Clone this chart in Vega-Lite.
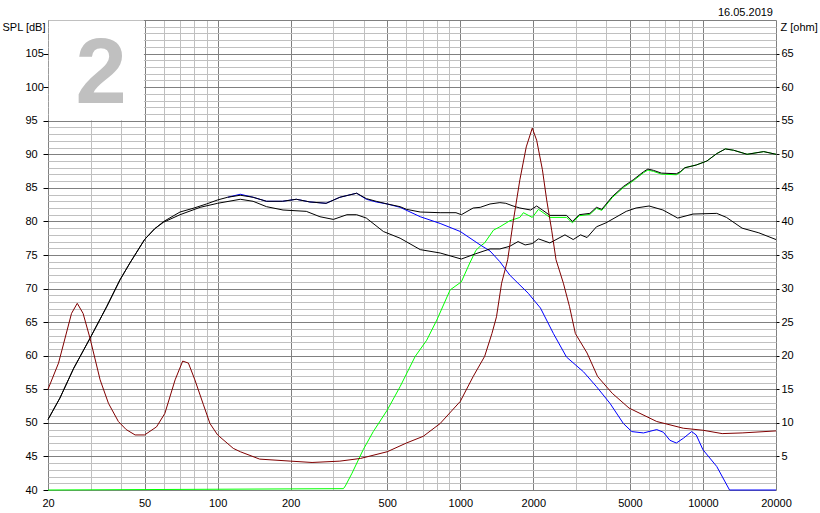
{
  "$schema": "https://vega.github.io/schema/vega-lite/v6.json",
  "width": 728,
  "height": 470,
  "autosize": {"type": "none"},
  "padding": {"left": 48, "top": 20, "right": 44, "bottom": 23},
  "background": "white",
  "config": {
    "view": {"stroke": null},
    "font": "Liberation Sans",
    "axis": {
      "labelFont": "Liberation Sans",
      "labelFontSize": 11,
      "labelColor": "black",
      "titleFont": "Liberation Sans",
      "titleFontSize": 11,
      "titleFontWeight": "normal",
      "titleColor": "black"
    }
  },
  "title": {
    "text": "16.05.2019",
    "anchor": "end",
    "frame": "group",
    "orient": "top",
    "offset": 7,
    "baseline": "alphabetic",
    "fontSize": 11,
    "fontWeight": "normal",
    "font": "Liberation Sans",
    "color": "black",
    "dx": -3,
    "dy": 20
  },
  "datasets": {
    "box": [{"f": 20.15, "f2": 49.7, "spl": 95.08, "spl2": 109.92}],
    "badge": [{"f": 33.1, "spl": 97.6, "label": "2"}],
    "sum": [
      {"f": 20, "spl": 50.5}, {"f": 22.4, "spl": 53.7}, {"f": 25.5, "spl": 58.1}, {"f": 29.8, "spl": 62.6},
      {"f": 34.9, "spl": 67.3}, {"f": 39.6, "spl": 71.3}, {"f": 43.5, "spl": 73.8}, {"f": 50, "spl": 77.3},
      {"f": 55, "spl": 78.9}, {"f": 60, "spl": 80.0}, {"f": 70, "spl": 81.4}, {"f": 80, "spl": 82.0},
      {"f": 90, "spl": 82.6}, {"f": 100, "spl": 83.2}, {"f": 110, "spl": 83.6}, {"f": 124, "spl": 83.9},
      {"f": 140, "spl": 83.6}, {"f": 159, "spl": 83.0}, {"f": 185, "spl": 83.0}, {"f": 211, "spl": 83.3},
      {"f": 240, "spl": 82.9}, {"f": 280, "spl": 82.7}, {"f": 319, "spl": 83.6}, {"f": 374, "spl": 84.2},
      {"f": 410, "spl": 83.4}, {"f": 450, "spl": 83.0}, {"f": 500, "spl": 82.6}, {"f": 565, "spl": 82.2},
      {"f": 600, "spl": 81.8}, {"f": 684, "spl": 81.4}, {"f": 826, "spl": 81.3}, {"f": 960, "spl": 81.3},
      {"f": 1010, "spl": 81.0}, {"f": 1130, "spl": 82.0}, {"f": 1208, "spl": 82.1}, {"f": 1326, "spl": 82.6},
      {"f": 1456, "spl": 82.8}, {"f": 1540, "spl": 82.7}, {"f": 1650, "spl": 82.3}, {"f": 1760, "spl": 82.0},
      {"f": 1950, "spl": 81.7}, {"f": 2064, "spl": 82.3}, {"f": 2180, "spl": 81.7}, {"f": 2340, "spl": 80.9},
      {"f": 2740, "spl": 80.9}, {"f": 2900, "spl": 80.0}, {"f": 3090, "spl": 81.0}, {"f": 3420, "spl": 81.2},
      {"f": 3640, "spl": 82.1}, {"f": 3830, "spl": 81.8}, {"f": 4230, "spl": 83.7}, {"f": 4700, "spl": 85.2},
      {"f": 5160, "spl": 86.2}, {"f": 5690, "spl": 87.4}, {"f": 5930, "spl": 87.8}, {"f": 6260, "spl": 87.6},
      {"f": 6740, "spl": 87.2}, {"f": 7770, "spl": 87.1}, {"f": 8060, "spl": 87.4}, {"f": 8430, "spl": 88.0},
      {"f": 9380, "spl": 88.4}, {"f": 10380, "spl": 89.0}, {"f": 11400, "spl": 90.1}, {"f": 12370, "spl": 90.8},
      {"f": 13380, "spl": 90.6}, {"f": 15200, "spl": 90.0}, {"f": 17800, "spl": 90.4}, {"f": 20000, "spl": 90.0}
    ],
    "reversed": [
      {"f": 20, "spl": 50.5}, {"f": 22.4, "spl": 53.7}, {"f": 25.5, "spl": 58.1}, {"f": 29.8, "spl": 62.6},
      {"f": 34.9, "spl": 67.3}, {"f": 39.6, "spl": 71.3}, {"f": 43.5, "spl": 73.8}, {"f": 50, "spl": 77.3},
      {"f": 55, "spl": 78.9}, {"f": 60, "spl": 79.9}, {"f": 70, "spl": 81.0}, {"f": 84.7, "spl": 82.1},
      {"f": 100, "spl": 82.7}, {"f": 124, "spl": 83.3}, {"f": 140, "spl": 83.0}, {"f": 159, "spl": 82.2},
      {"f": 186, "spl": 81.7}, {"f": 232, "spl": 81.5}, {"f": 264, "spl": 80.7}, {"f": 300, "spl": 80.3},
      {"f": 341, "spl": 81.0}, {"f": 374, "spl": 81.0}, {"f": 410, "spl": 80.5}, {"f": 482, "spl": 78.5},
      {"f": 565, "spl": 77.5}, {"f": 684, "spl": 75.8}, {"f": 826, "spl": 75.3}, {"f": 1010, "spl": 74.4},
      {"f": 1160, "spl": 75.2}, {"f": 1326, "spl": 75.9}, {"f": 1456, "spl": 75.9}, {"f": 1600, "spl": 76.3},
      {"f": 1730, "spl": 77.0}, {"f": 1850, "spl": 76.5}, {"f": 1980, "spl": 76.7}, {"f": 2100, "spl": 77.4},
      {"f": 2340, "spl": 76.8}, {"f": 2700, "spl": 78.0}, {"f": 2920, "spl": 77.3}, {"f": 3130, "spl": 78.0},
      {"f": 3330, "spl": 77.6}, {"f": 3640, "spl": 79.2}, {"f": 3990, "spl": 79.8}, {"f": 4830, "spl": 81.5},
      {"f": 5300, "spl": 82.0}, {"f": 6000, "spl": 82.3}, {"f": 6840, "spl": 81.7}, {"f": 7870, "spl": 80.5},
      {"f": 9100, "spl": 81.1}, {"f": 11400, "spl": 81.2}, {"f": 12500, "spl": 80.6}, {"f": 14500, "spl": 79.0},
      {"f": 17000, "spl": 78.3}, {"f": 20000, "spl": 77.3}
    ],
    "woofer": [
      {"f": 110, "spl": 83.6}, {"f": 124, "spl": 84.05}, {"f": 140, "spl": 83.6}, {"f": 159, "spl": 83.0},
      {"f": 185, "spl": 83.0}, {"f": 211, "spl": 83.3}, {"f": 240, "spl": 82.9}, {"f": 280, "spl": 82.7},
      {"f": 319, "spl": 83.6}, {"f": 374, "spl": 84.2},
      {"f": 410, "spl": 83.3}, {"f": 450, "spl": 82.9}, {"f": 500, "spl": 82.6}, {"f": 565, "spl": 82.1},
      {"f": 684, "spl": 80.7}, {"f": 826, "spl": 79.7}, {"f": 1000, "spl": 78.5}, {"f": 1208, "spl": 76.5},
      {"f": 1326, "spl": 75.6}, {"f": 1456, "spl": 74.0}, {"f": 1600, "spl": 72.0}, {"f": 1906, "spl": 69.3},
      {"f": 2140, "spl": 67.1}, {"f": 2420, "spl": 63.3}, {"f": 2740, "spl": 59.8}, {"f": 3220, "spl": 57.6},
      {"f": 3640, "spl": 55.4}, {"f": 4140, "spl": 52.9}, {"f": 4700, "spl": 49.9}, {"f": 5090, "spl": 48.7},
      {"f": 5690, "spl": 48.5}, {"f": 6450, "spl": 49.0}, {"f": 6870, "spl": 48.6}, {"f": 7310, "spl": 47.4},
      {"f": 7770, "spl": 47.0}, {"f": 8300, "spl": 47.7}, {"f": 8980, "spl": 48.7}, {"f": 9380, "spl": 48.2},
      {"f": 10000, "spl": 46.0}, {"f": 11400, "spl": 43.5}, {"f": 12870, "spl": 40.0}, {"f": 20000, "spl": 40.0}
    ],
    "tweeter": [
      {"f": 20, "spl": 40.0}, {"f": 330, "spl": 40.2}, {"f": 336, "spl": 40.6}, {"f": 358, "spl": 42.5},
      {"f": 398, "spl": 46.0}, {"f": 438, "spl": 48.7}, {"f": 500, "spl": 51.9}, {"f": 565, "spl": 55.4},
      {"f": 652, "spl": 59.9}, {"f": 727, "spl": 62.3}, {"f": 800, "spl": 65.3}, {"f": 908, "spl": 69.8},
      {"f": 1010, "spl": 71.0}, {"f": 1094, "spl": 73.8}, {"f": 1160, "spl": 75.7}, {"f": 1208, "spl": 76.3},
      {"f": 1260, "spl": 76.8}, {"f": 1370, "spl": 78.7}, {"f": 1456, "spl": 79.2}, {"f": 1600, "spl": 80.1},
      {"f": 1760, "spl": 80.6}, {"f": 1820, "spl": 81.3}, {"f": 1980, "spl": 80.6}, {"f": 2100, "spl": 81.8},
      {"f": 2340, "spl": 80.6}, {"f": 2740, "spl": 80.6}, {"f": 2900, "spl": 79.8}, {"f": 3090, "spl": 80.85},
      {"f": 3420, "spl": 81.05}, {"f": 3640, "spl": 81.95}, {"f": 3830, "spl": 81.65}, {"f": 4230, "spl": 83.55},
      {"f": 4700, "spl": 85.05}, {"f": 5160, "spl": 86.05}, {"f": 5690, "spl": 87.25}, {"f": 5930, "spl": 87.65},
      {"f": 6260, "spl": 87.45}, {"f": 6740, "spl": 87.05}, {"f": 7770, "spl": 86.95}, {"f": 8060, "spl": 87.3},
      {"f": 8430, "spl": 88.0}, {"f": 9380, "spl": 88.4}, {"f": 10380, "spl": 89.0}, {"f": 11400, "spl": 90.1},
      {"f": 12370, "spl": 90.8}, {"f": 13380, "spl": 90.6}, {"f": 15200, "spl": 90.0}, {"f": 17800, "spl": 90.4},
      {"f": 20000, "spl": 90.0}
    ],
    "impedance": [
      {"f": 20, "ohm": 15.0}, {"f": 22.1, "ohm": 18.9}, {"f": 25.0, "ohm": 26.3}, {"f": 26.4, "ohm": 27.8},
      {"f": 27.9, "ohm": 26.3}, {"f": 29.8, "ohm": 22.6}, {"f": 32.8, "ohm": 16.4}, {"f": 35.5, "ohm": 12.9},
      {"f": 39, "ohm": 10.2}, {"f": 42, "ohm": 9.0}, {"f": 45.7, "ohm": 8.2}, {"f": 50, "ohm": 8.2},
      {"f": 56, "ohm": 9.4}, {"f": 60.6, "ohm": 11.4}, {"f": 66.8, "ohm": 16.4}, {"f": 71.8, "ohm": 19.2},
      {"f": 75.8, "ohm": 18.9}, {"f": 80.6, "ohm": 16.4}, {"f": 87.4, "ohm": 12.7}, {"f": 93, "ohm": 9.9},
      {"f": 100, "ohm": 8.2}, {"f": 116, "ohm": 6.2}, {"f": 124, "ohm": 5.7}, {"f": 149, "ohm": 4.6},
      {"f": 200, "ohm": 4.3}, {"f": 245, "ohm": 4.1}, {"f": 319, "ohm": 4.3}, {"f": 388, "ohm": 4.7},
      {"f": 500, "ohm": 5.7}, {"f": 600, "ohm": 7.0}, {"f": 704, "ohm": 8.0}, {"f": 826, "ohm": 9.9},
      {"f": 1000, "ohm": 13.2}, {"f": 1130, "ohm": 16.9}, {"f": 1260, "ohm": 19.9}, {"f": 1350, "ohm": 23.3},
      {"f": 1410, "ohm": 25.8}, {"f": 1480, "ohm": 30.8}, {"f": 1568, "ohm": 34.3}, {"f": 1656, "ohm": 40.2},
      {"f": 1760, "ohm": 46.2}, {"f": 1870, "ohm": 51.1}, {"f": 1980, "ohm": 53.9}, {"f": 2064, "ohm": 52.1},
      {"f": 2180, "ohm": 47.7}, {"f": 2270, "ohm": 43.2}, {"f": 2380, "ohm": 38.7}, {"f": 2480, "ohm": 34.3},
      {"f": 2660, "ohm": 30.8}, {"f": 2820, "ohm": 27.3}, {"f": 2980, "ohm": 23.3}, {"f": 3330, "ohm": 20.4},
      {"f": 3680, "ohm": 16.9}, {"f": 4230, "ohm": 14.4}, {"f": 4960, "ohm": 12.2}, {"f": 6450, "ohm": 10.2},
      {"f": 8300, "ohm": 9.2}, {"f": 10000, "ohm": 8.9}, {"f": 12000, "ohm": 8.4}, {"f": 14500, "ohm": 8.5},
      {"f": 20000, "ohm": 8.8}
    ]
  },
  "encoding": {
    "x": {
      "field": "f",
      "type": "quantitative",
      "scale": {"type": "log", "domain": [20, 20000], "nice": false},
      "axis": {
        "values": [20, 30, 40, 50, 60, 70, 80, 90, 100, 200, 300, 400, 500, 600, 700, 800, 900, 1000, 2000, 3000, 4000, 5000, 6000, 7000, 8000, 9000, 10000, 20000],
        "format": "d",
        "labelExpr": "indexof([20, 50, 100, 200, 500, 1000, 2000, 5000, 10000, 20000], datum.value) >= 0 ? datum.label : ''",
        "grid": true,
        "gridOpacity": 1,
        "gridColor": {"condition": {"test": "indexof([20, 50, 100, 200, 500, 1000, 2000, 5000, 10000, 20000], datum.value) >= 0", "value": "#808080"}, "value": "#c0c0c0"},
        "ticks": false,
        "domain": false,
        "labelPadding": 7,
        "labelOverlap": false,
        "labelFlush": false,
        "labelBound": false,
        "title": null
      }
    }
  },
  "layer": [
    {
      "encoding": {
        "y": {
          "field": "spl",
          "type": "quantitative",
          "scale": {"domain": [40, 110], "nice": false, "zero": false},
          "axis": {
            "orient": "left",
            "values": [40, 41, 42, 43, 44, 45, 46, 47, 48, 49, 50, 51, 52, 53, 54, 55, 56, 57, 58, 59, 60, 61, 62, 63, 64, 65, 66, 67, 68, 69, 70, 71, 72, 73, 74, 75, 76, 77, 78, 79, 80, 81, 82, 83, 84, 85, 86, 87, 88, 89, 90, 91, 92, 93, 94, 95, 96, 97, 98, 99, 100, 101, 102, 103, 104, 105, 106, 107, 108, 109, 110],
            "format": "d",
            "labelExpr": "datum.value % 5 === 0 && datum.value < 110 ? datum.label : ''",
            "grid": true,
            "gridOpacity": 1,
            "gridColor": {"condition": {"test": "datum.value % 5 === 0", "value": "#808080"}, "value": "#c0c0c0"},
            "tickColor": {"condition": {"test": "datum.value % 5 === 0 && datum.value < 110", "value": "black"}, "value": "transparent"},
            "tickSize": 5,
            "labelAlign": "left",
            "labelPadding": 18,
            "labelOverlap": false,
            "domain": false,
            "title": "SPL [dB]",
            "titleAngle": 0,
            "titleX": -46,
            "titleY": 10,
            "titleAlign": "left",
            "titleBaseline": "alphabetic"
          }
        }
      },
      "layer": [
        {
          "data": {"name": "box"},
          "mark": {"type": "rect", "fill": "white"},
          "encoding": {"x2": {"field": "f2"}, "y2": {"field": "spl2"}}
        },
        {
          "data": {"name": "badge"},
          "mark": {"type": "text", "font": "Liberation Sans", "fontWeight": "bold", "fontSize": 92, "color": "#c0c0c0", "align": "center", "baseline": "alphabetic"},
          "encoding": {"text": {"field": "label"}}
        },
        {
          "data": {"name": "tweeter"},
          "mark": {"type": "line", "color": "#00ff00", "strokeWidth": 1},
          "encoding": {}
        },
        {
          "data": {"name": "woofer"},
          "mark": {"type": "line", "color": "#0000ff", "strokeWidth": 1},
          "encoding": {}
        },
        {
          "data": {"name": "reversed"},
          "mark": {"type": "line", "color": "#000000", "strokeWidth": 1},
          "encoding": {}
        },
        {
          "data": {"name": "sum"},
          "mark": {"type": "line", "color": "#000000", "strokeWidth": 1},
          "encoding": {}
        }
      ]
    },
    {
      "data": {"name": "impedance"},
      "mark": {"type": "line", "color": "#800000", "strokeWidth": 1},
      "encoding": {
        "y": {
          "field": "ohm",
          "type": "quantitative",
          "scale": {"domain": [0, 70], "nice": false},
          "axis": {
            "orient": "right",
            "values": [5, 10, 15, 20, 25, 30, 35, 40, 45, 50, 55, 60, 65],
            "format": "d",
            "grid": false,
            "domain": false,
            "tickSize": 3,
            "tickColor": "black",
            "labelPadding": 2,
            "title": "Z [ohm]",
            "titleAngle": 0,
            "titleX": 4,
            "titleY": 10,
            "titleAlign": "left",
            "titleBaseline": "alphabetic"
          }
        }
      }
    }
  ],
  "resolve": {"scale": {"y": "independent"}, "axis": {"y": "independent"}}
}
